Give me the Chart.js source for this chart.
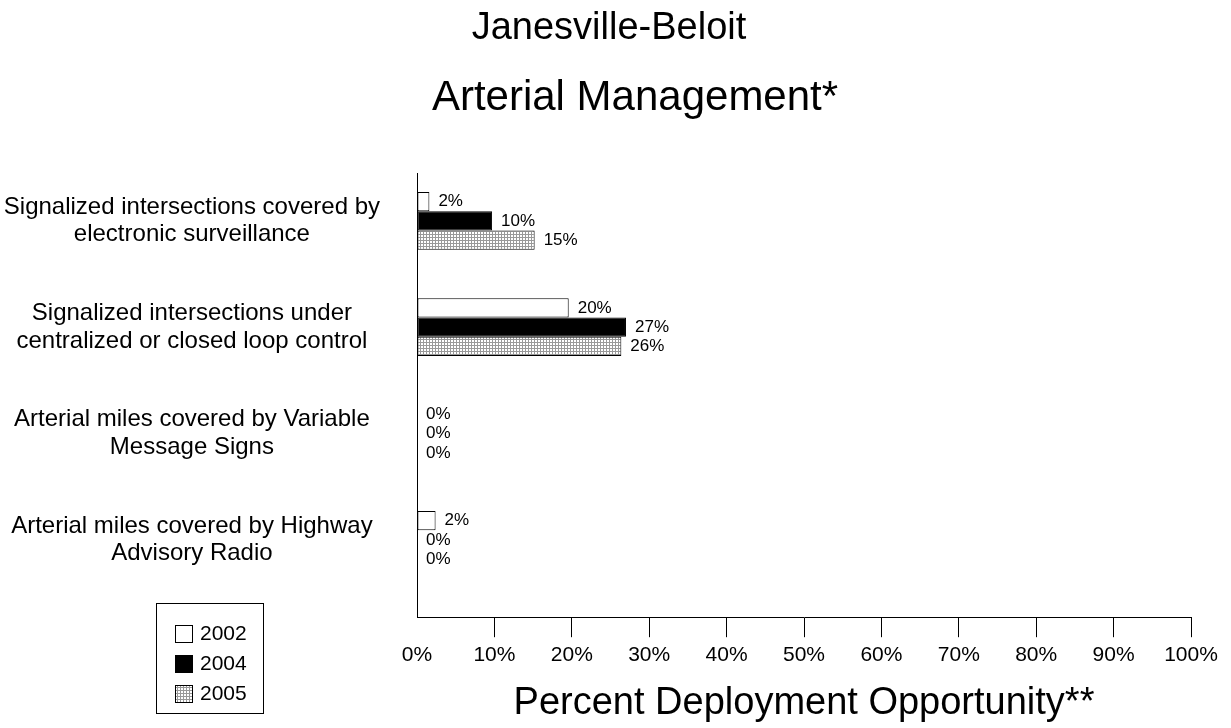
<!DOCTYPE html>
<html>
<head>
<meta charset="utf-8">
<title>Janesville-Beloit - Arterial Management</title>
<script src="https://cdn.jsdelivr.net/npm/chart.js@4.4.1/dist/chart.umd.min.js"></script>
<style>
  html, body { margin: 0; padding: 0; background: #fff; }
</style>
</head>
<body>
<canvas id="chart" width="1231" height="728"></canvas>
<script>
// chart values
const categories = [
    ['Signalized intersections covered by', 'electronic surveillance'],
    ['Signalized intersections under', 'centralized or closed loop control'],
    ['Arterial miles covered by Variable', 'Message Signs'],
    ['Arterial miles covered by Highway', 'Advisory Radio']
];
const years = ['2002', '2004', '2005'];
const values2002 = [1.6, 19.6, 0, 2.4];
const values2004 = [9.7, 27.0, 0, 0];
const values2005 = [15.2, 26.4, 0, 0];
const xTicks = [0, 10, 20, 30, 40, 50, 60, 70, 80, 90, 100];

const FONT = '"Liberation Sans", Arial, sans-serif';

(function () {
    const canvas = document.getElementById('chart');
    const ctx = canvas.getContext('2d');

    // fine grey grid fill used for 2005
    function makeHatch() {
        const tile = document.createElement('canvas');
        tile.width = 3;
        tile.height = 3;
        const t = tile.getContext('2d');
        t.fillStyle = '#fff';
        t.fillRect(0, 0, 3, 3);
        t.fillStyle = '#999';
        t.fillRect(0, 0, 3, 1);
        t.fillRect(0, 0, 1, 3);
        return ctx.createPattern(tile, 'repeat');
    }

    function toPoints(values) {
        return values.map((v, i) => ({ x: v, y: i }));
    }

    // headings are not centred on the canvas in the original, so draw them here
    const headings = {
        id: 'headings',
        afterDraw(chart, args, opts) {
            const c = chart.ctx;
            c.save();
            c.fillStyle = '#000';
            c.textAlign = 'center';
            c.textBaseline = 'middle';
            opts.lines.forEach(line => {
                c.font = line.size + 'px ' + FONT;
                c.fillText(line.text, line.x, line.y);
            });
            c.restore();
        }
    };

    // value labels at the end of each bar
    const barValueLabels = {
        id: 'barValueLabels',
        afterDatasetsDraw(chart) {
            const c = chart.ctx;
            c.save();
            c.font = '17px ' + FONT;
            c.fillStyle = '#000';
            c.textAlign = 'left';
            c.textBaseline = 'middle';
            chart.data.datasets.forEach((ds, i) => {
                chart.getDatasetMeta(i).data.forEach((bar, j) => {
                    c.fillText(Math.round(ds.data[j].x) + '%', bar.x + 9, bar.y);
                });
            });
            c.restore();
        }
    };

    // boxed legend in the lower left corner
    const boxLegend = {
        id: 'boxLegend',
        afterDraw(chart, args, opts) {
            const c = chart.ctx;
            c.save();
            c.strokeStyle = '#000';
            c.lineWidth = 1;
            c.strokeRect(opts.left + 0.5, opts.top + 0.5, opts.width, opts.height);
            c.font = opts.fontSize + 'px ' + FONT;
            c.textAlign = 'left';
            c.textBaseline = 'middle';
            chart.data.datasets.forEach((ds, i) => {
                const y = opts.firstRow + i * opts.rowGap;
                const s = opts.swatch;
                c.fillStyle = ds.backgroundColor;
                c.fillRect(opts.swatchX, Math.round(y - s / 2), s, s);
                c.strokeRect(opts.swatchX + 0.5, Math.round(y - s / 2) + 0.5, s - 1, s - 1);
                c.fillStyle = '#000';
                c.fillText(ds.label, opts.textX, y);
            });
            c.restore();
        }
    };

    const hatch = makeHatch();
    const fills = ['#fff', '#000', hatch];
    const series = [values2002, values2004, values2005];

    new Chart(ctx, {
        type: 'bar',
        data: {
            datasets: years.map((year, i) => ({
                label: year,
                data: toPoints(series[i]),
                backgroundColor: fills[i],
                borderColor: '#000',
                borderWidth: c => (c.raw && c.raw.x > 0 ? 1 : 0),
                borderSkipped: false,
                barPercentage: 1,
                categoryPercentage: 0.543
            }))
        },
        options: {
            indexAxis: 'y',
            responsive: false,
            animation: false,
            layout: {
                padding: { top: 173, right: 40, bottom: 0, left: 0 }
            },
            scales: {
                x: {
                    type: 'linear',
                    position: 'bottom',
                    min: 0,
                    max: 100,
                    afterBuildTicks: s => { s.ticks = xTicks.map(v => ({ value: v })); },
                    ticks: {
                        callback: v => v + '%',
                        color: '#000',
                        font: { family: FONT, size: 21 },
                        padding: 5,
                        maxRotation: 0,
                        autoSkip: false
                    },
                    grid: {
                        drawOnChartArea: false,
                        tickLength: 20,
                        color: c => (c.index === 0 ? 'rgba(0,0,0,0)' : '#000')
                    },
                    border: { color: '#000', width: 1 },
                    title: {
                        display: true,
                        text: 'Percent Deployment Opportunity**',
                        color: '#000',
                        font: { family: FONT, size: 38 },
                        padding: { top: 8, bottom: 2 }
                    }
                },
                y: {
                    type: 'linear',
                    reverse: true,
                    offset: false,
                    min: -0.45,
                    max: 3.726,
                    afterBuildTicks: s => { s.ticks = categories.map((_, i) => ({ value: i })); },
                    afterFit: s => { s.width = 417; },
                    ticks: {
                        callback: v => categories[v],
                        crossAlign: 'center',
                        color: '#000',
                        font: { family: FONT, size: 24, lineHeight: 1.15 },
                        padding: 37,
                        autoSkip: false
                    },
                    grid: { drawOnChartArea: false, drawTicks: false, offset: false },
                    border: { color: '#000', width: 1 }
                }
            },
            plugins: {
                legend: { display: false },
                tooltip: { enabled: false },
                headings: {
                    lines: [
                        { text: 'Janesville-Beloit', x: 609, y: 29, size: 38 },
                        { text: 'Arterial Management*', x: 635, y: 98, size: 42 }
                    ]
                },
                boxLegend: {
                    left: 156, top: 603, width: 107, height: 110,
                    swatchX: 175, swatch: 18, textX: 200,
                    firstRow: 634, rowGap: 30, fontSize: 21
                }
            }
        },
        plugins: [headings, barValueLabels, boxLegend]
    });
})();
</script>
</body>
</html>
